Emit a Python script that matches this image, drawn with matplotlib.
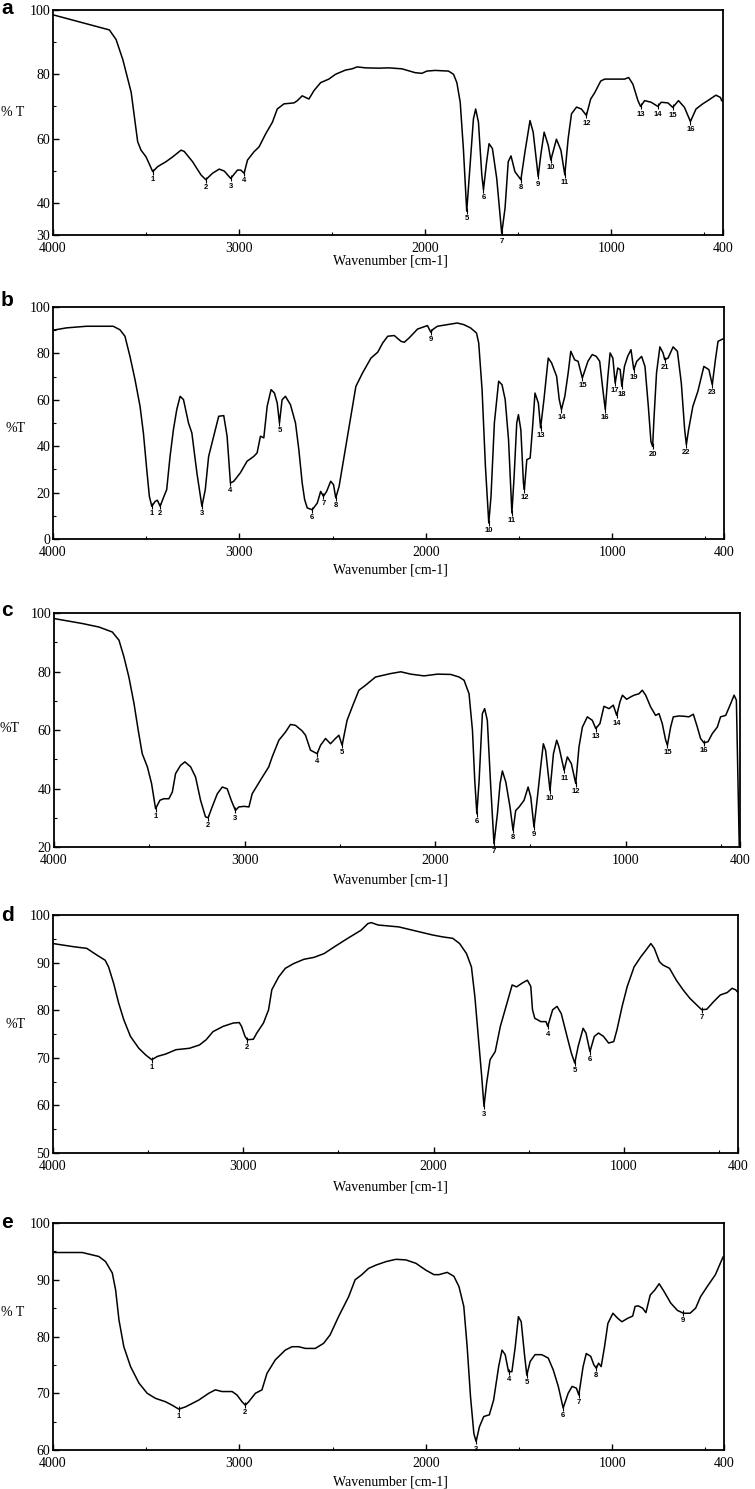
import numpy as np
import matplotlib.pyplot as plt
from matplotlib.ticker import MultipleLocator
# ------------------------------------------------------------------------
# FT-IR spectra a-e : wavenumber [cm-1] vs %T
# ------------------------------------------------------------------------
a_wn = [4000, 3697, 3661, 3625, 3580, 3545, 3527, 3500, 3464, 3437, 3393, 3357, 3312, 3295, 3250,
        3205, 3179, 3143, 3107, 3080, 3045, 3009, 2991, 2973, 2955, 2920, 2893, 2857, 2821, 2795,
        2759, 2705, 2687, 2661, 2643, 2625, 2598, 2562, 2518, 2482, 2429, 2393, 2366, 2321, 2250,
        2196, 2125, 2054, 2018, 1991, 1946, 1875, 1848, 1830, 1812, 1795, 1777, 1759, 1741, 1729,
        1714, 1696, 1687, 1670, 1657, 1639, 1616, 1589, 1571, 1554, 1539, 1518, 1486, 1464, 1437,
        1420, 1393, 1379, 1361, 1339, 1325, 1295, 1271, 1250, 1232, 1214, 1187, 1161, 1134, 1111,
        1089, 1057, 1036, 964, 929, 907, 884, 857, 843, 821, 786, 750, 732, 696, 670,
        639, 607, 575, 545, 509, 482, 438, 414, 407]
a_t = [98.5, 93.8, 90.8, 84.6, 74.4, 59.0, 56.4, 54.3, 49.7, 51.3, 52.8, 54.3, 56.4, 56.0, 52.8,
       48.7, 47.2, 49.2, 50.5, 49.9, 47.6, 50.2, 50.2, 49.2, 53.3, 55.9, 57.4, 61.5, 65.1, 69.2,
       70.8, 71.1, 71.8, 73.3, 72.8, 72.3, 74.9, 77.4, 78.5, 80.0, 81.3, 81.7, 82.3, 82.0, 81.9,
       82.0, 81.7, 80.5, 80.3, 81.0, 81.2, 81.0, 80.0, 77.4, 71.3, 56.9, 37.4, 51.7, 66.1, 69.2,
       65.1, 48.7, 44.1, 52.8, 58.4, 56.9, 47.7, 30.5, 38.4, 52.8, 54.6, 49.7, 47.2, 55.9, 65.6,
       62.0, 48.2, 54.9, 62.0, 57.9, 53.3, 59.8, 56.4, 48.7, 60.0, 67.7, 69.8, 69.2, 67.2, 72.3,
       74.3, 77.9, 78.5, 78.5, 78.5, 79.0, 76.9, 71.8, 70.0, 71.8, 71.3, 70.0, 71.3, 71.1, 69.7,
       71.8, 69.7, 65.3, 69.2, 70.8, 71.8, 73.5, 72.8, 71.8]
a_pk_wn = [3464, 3179, 3045, 2973, 1777, 1687, 1589, 1486, 1393, 1325, 1250, 1134, 843, 750, 670, 575]
a_pk_t = [49.7, 47.2, 47.6, 49.2, 37.4, 44.1, 30.5, 47.2, 48.2, 53.3, 48.7, 67.2, 70.0, 70.0, 69.7, 65.3]

b_wn = [4000, 3928, 3820, 3677, 3641, 3614, 3587, 3560, 3533, 3515, 3497, 3483, 3470, 3452, 3440,
        3425, 3408, 3390, 3372, 3354, 3336, 3318, 3300, 3273, 3255, 3228, 3201, 3183, 3165, 3138,
        3111, 3084, 3066, 3048, 3030, 2995, 2959, 2923, 2905, 2887, 2869, 2851, 2830, 2812, 2797,
        2785, 2771, 2753, 2726, 2699, 2681, 2663, 2650, 2636, 2609, 2582, 2564, 2549, 2532, 2510,
        2495, 2483, 2465, 2438, 2402, 2375, 2339, 2294, 2258, 2231, 2204, 2169, 2133, 2115, 2089,
        2044, 1991, 1973, 1964, 1938, 1885, 1831, 1796, 1760, 1728, 1716, 1698, 1680, 1662, 1650,
        1632, 1609, 1591, 1574, 1556, 1538, 1526, 1512, 1503, 1490, 1476, 1471, 1458, 1440, 1428,
        1414, 1396, 1384, 1366, 1343, 1325, 1298, 1284, 1272, 1254, 1236, 1222, 1201, 1183, 1160,
        1130, 1107, 1085, 1067, 1050, 1037, 1023, 1011, 996, 984, 970, 957, 948, 934, 917,
        899, 884, 868, 842, 824, 806, 792, 783, 775, 762, 744, 727, 718, 700, 673,
        650, 629, 611, 602, 590, 567, 540, 508, 481, 463, 446, 432, 407]
b_t = [90.0, 91.0, 91.7, 91.7, 90.2, 87.4, 78.7, 68.7, 57.2, 45.7, 29.9, 18.4, 14.1, 16.2, 16.7,
       14.1, 17.7, 21.3, 35.6, 47.1, 55.8, 61.5, 60.1, 50.0, 45.7, 28.5, 14.1, 21.3, 35.6, 44.3,
       52.9, 53.2, 44.3, 24.1, 24.9, 28.5, 33.5, 35.6, 37.1, 44.3, 43.6, 57.2, 64.4, 62.9, 58.6,
       50.0, 60.0, 61.5, 57.9, 50.0, 38.5, 24.1, 17.0, 13.4, 12.6, 15.5, 20.5, 18.4, 20.5, 24.9,
       23.4, 17.7, 22.7, 35.6, 52.9, 65.8, 71.6, 78.0, 80.5, 84.5, 87.4, 87.7, 85.2, 84.8, 86.7,
       90.5, 92.0, 89.1, 90.2, 91.7, 92.4, 93.1, 92.4, 91.0, 88.8, 84.5, 64.4, 31.3, 6.9, 18.4,
       50.0, 68.0, 66.5, 60.1, 42.8, 11.2, 27.0, 50.0, 53.6, 47.1, 24.1, 21.3, 34.2, 34.9, 47.1,
       62.9, 58.6, 47.9, 60.1, 78.0, 75.9, 70.1, 60.1, 55.8, 61.5, 71.6, 80.9, 77.2, 76.6, 69.4,
       76.6, 79.5, 78.7, 76.6, 64.4, 55.8, 70.1, 80.2, 77.9, 67.2, 73.7, 73.0, 65.8, 74.4, 78.7,
       81.6, 73.0, 76.6, 78.7, 74.4, 57.2, 42.0, 39.9, 52.9, 71.6, 82.8, 80.2, 77.3, 78.0, 82.8,
       80.9, 67.2, 47.1, 40.7, 47.1, 57.2, 63.7, 74.4, 73.0, 66.5, 77.3, 85.2, 86.2]
b_pk_wn = [3470, 3425, 3201, 3048, 2785, 2609, 2549, 2483, 1973, 1662, 1538, 1471, 1384, 1272, 1160,
           1037, 984, 948, 884, 783, 718, 602, 463]
b_pk_t = [14.1, 14.1, 14.1, 24.1, 50.0, 12.6, 18.4, 17.7, 89.1, 6.9, 11.2, 21.3, 47.9, 55.8, 69.4,
          55.8, 67.2, 65.8, 73.0, 39.9, 77.3, 40.7, 66.5]

c_wn = [4000, 3851, 3764, 3694, 3659, 3633, 3607, 3580, 3558, 3537, 3510, 3488, 3467, 3444, 3423,
        3397, 3379, 3362, 3336, 3313, 3283, 3257, 3231, 3205, 3191, 3170, 3143, 3117, 3091, 3070,
        3048, 3030, 3003, 2977, 2960, 2917, 2873, 2855, 2820, 2785, 2759, 2733, 2698, 2680, 2654,
        2619, 2601, 2575, 2549, 2523, 2505, 2488, 2462, 2435, 2400, 2365, 2313, 2233, 2180, 2128,
        2058, 1988, 1918, 1874, 1848, 1822, 1804, 1792, 1781, 1769, 1752, 1740, 1726, 1708, 1691,
        1673, 1659, 1647, 1629, 1607, 1591, 1577, 1559, 1533, 1512, 1498, 1481, 1463, 1446, 1432,
        1420, 1397, 1379, 1362, 1350, 1323, 1306, 1285, 1262, 1245, 1227, 1201, 1175, 1157, 1135,
        1114, 1087, 1065, 1047, 1030, 1017, 995, 974, 956, 930, 913, 895, 869, 843, 825,
        808, 790, 781, 764, 750, 720, 694, 668, 645, 624, 607, 589, 568, 545, 519,
        502, 475, 449, 431, 419, 410, 404]
c_t = [98.1, 96.4, 95.2, 93.5, 90.7, 85.0, 78.1, 69.0, 59.9, 51.9, 47.4, 41.7, 33.1, 36.0, 36.5,
       36.5, 38.8, 45.1, 47.9, 49.1, 47.4, 43.9, 36.0, 30.3, 30.0, 33.7, 38.2, 40.5, 39.9, 36.0,
       32.5, 33.7, 33.9, 33.7, 38.2, 42.8, 47.4, 50.8, 56.5, 59.3, 61.9, 61.6, 59.7, 58.2, 53.1,
       51.9, 54.8, 57.1, 55.3, 57.1, 58.2, 54.8, 63.3, 67.9, 73.6, 75.3, 78.1, 79.3, 79.9, 79.1,
       78.5, 79.1, 79.0, 78.1, 77.0, 72.4, 59.9, 42.8, 31.4, 42.8, 65.6, 67.3, 63.3, 40.5, 21.1,
       31.4, 41.7, 46.0, 42.2, 33.7, 25.7, 32.5, 33.7, 36.0, 40.5, 37.1, 26.8, 37.1, 47.4, 55.3,
       53.0, 39.3, 51.9, 56.5, 54.2, 46.2, 50.8, 48.5, 41.7, 54.2, 61.0, 64.5, 63.3, 60.5, 62.2,
       68.1, 67.3, 68.5, 65.0, 69.6, 71.9, 70.5, 71.3, 71.9, 72.4, 73.6, 71.9, 67.9, 65.0, 65.6,
       62.2, 56.5, 54.8, 61.0, 64.5, 64.8, 64.7, 64.5, 65.4, 61.0, 57.1, 55.6, 56.0, 58.8, 61.0,
       64.5, 65.0, 69.0, 71.9, 70.2, 40.0, 20.5]
c_pk_wn = [3467, 3191, 3048, 2619, 2488, 1781, 1691, 1591, 1481, 1397, 1323, 1262, 1157, 1047, 781, 589]
c_pk_t = [33.1, 30.0, 32.5, 51.9, 54.8, 31.4, 21.1, 25.7, 26.8, 39.3, 46.2, 41.7, 60.5, 65.0, 54.8, 55.6]

d_wn = [4000, 3885, 3823, 3770, 3726, 3708, 3681, 3655, 3628, 3593, 3549, 3513, 3481, 3451, 3407,
        3354, 3283, 3230, 3195, 3159, 3106, 3053, 3021, 3009, 2991, 2979, 2947, 2929, 2894, 2867,
        2850, 2814, 2779, 2735, 2681, 2628, 2575, 2522, 2451, 2381, 2345, 2327, 2292, 2183, 2005,
        1952, 1899, 1863, 1827, 1801, 1783, 1765, 1747, 1735, 1721, 1703, 1676, 1649, 1614, 1587,
        1564, 1534, 1507, 1489, 1480, 1468, 1436, 1409, 1400, 1374, 1351, 1329, 1303, 1276, 1258,
        1240, 1214, 1199, 1178, 1155, 1133, 1107, 1080, 1053, 1036, 1009, 982, 946, 911, 884,
        858, 840, 813, 795, 760, 724, 689, 653, 617, 591, 564, 528, 493, 457, 431,
        413, 404]
d_t = [94.0, 93.3, 93.0, 91.6, 90.5, 89.1, 85.6, 81.5, 78.0, 74.5, 72.0, 70.6, 69.6, 70.3, 70.8,
       71.7, 72.0, 72.7, 73.8, 75.5, 76.6, 77.3, 77.4, 76.6, 74.5, 73.8, 73.9, 75.2, 77.3, 80.1,
       84.3, 87.0, 88.8, 89.8, 90.7, 91.1, 91.9, 93.3, 95.1, 96.8, 98.2, 98.4, 97.9, 97.5, 95.8,
       95.4, 95.1, 94.0, 91.9, 89.1, 82.9, 74.5, 66.1, 59.8, 64.7, 69.6, 71.3, 76.6, 81.5, 85.3,
       84.9, 85.7, 86.3, 85.0, 80.1, 78.3, 77.6, 77.6, 76.6, 80.1, 80.8, 79.3, 75.2, 71.0, 68.9,
       72.4, 76.2, 75.2, 71.3, 74.5, 75.2, 74.5, 73.1, 73.4, 75.9, 80.8, 85.0, 89.1, 91.2, 92.6,
       94.0, 93.0, 90.2, 89.5, 88.8, 86.3, 84.3, 82.5, 81.1, 80.1, 80.2, 81.8, 83.2, 83.7, 84.6,
       84.3, 83.9]
d_pk_wn = [3481, 2979, 1735, 1400, 1258, 1178, 591]
d_pk_t = [69.6, 73.8, 59.8, 76.6, 68.9, 71.3, 80.1]

e_wn = [4000, 3843, 3754, 3718, 3682, 3664, 3646, 3620, 3584, 3539, 3495, 3450, 3396, 3361, 3325,
        3289, 3218, 3164, 3129, 3093, 3039, 3013, 2986, 2968, 2950, 2914, 2879, 2852, 2807, 2754,
        2718, 2682, 2646, 2593, 2548, 2513, 2468, 2414, 2379, 2343, 2307, 2266, 2213, 2160, 2107,
        2053, 2000, 1956, 1929, 1885, 1849, 1822, 1796, 1778, 1760, 1742, 1730, 1712, 1689, 1659,
        1636, 1609, 1591, 1574, 1556, 1538, 1520, 1503, 1488, 1471, 1458, 1440, 1414, 1378, 1343,
        1316, 1289, 1263, 1236, 1215, 1192, 1179, 1156, 1139, 1115, 1098, 1085, 1073, 1059, 1041,
        1023, 996, 970, 948, 917, 890, 877, 860, 837, 819, 796, 771, 748, 721, 686,
        650, 618, 582, 552, 526, 490, 446, 416, 405]
e_t = [94.8, 94.8, 94.1, 93.2, 91.2, 88.2, 82.9, 78.2, 74.7, 71.8, 70.0, 69.1, 68.5, 67.9, 67.2,
       67.6, 68.8, 70.0, 70.6, 70.3, 70.3, 69.7, 68.5, 67.9, 68.5, 70.0, 70.6, 73.5, 75.9, 77.6,
       78.2, 78.2, 77.9, 77.9, 78.8, 80.3, 83.5, 87.0, 90.0, 90.9, 92.0, 92.6, 93.2, 93.6, 93.5,
       92.9, 91.7, 90.9, 90.9, 91.3, 90.6, 88.8, 85.3, 78.2, 69.4, 62.9, 61.5, 64.1, 65.9, 66.2,
       68.8, 74.7, 77.6, 76.8, 73.8, 73.8, 78.2, 83.5, 82.6, 77.0, 73.2, 75.6, 76.8, 76.8, 76.2,
       74.1, 71.2, 67.4, 70.0, 71.2, 70.9, 69.7, 74.7, 77.0, 76.5, 75.0, 74.4, 75.3, 74.7, 78.2,
       82.3, 84.1, 83.2, 82.6, 83.2, 83.6, 85.3, 85.4, 85.0, 84.2, 87.3, 88.2, 89.3, 87.9, 85.9,
       84.6, 84.1, 84.1, 85.0, 87.0, 88.8, 90.9, 93.2, 94.0]
e_pk_wn = [3325, 2968, 1730, 1556, 1458, 1263, 1179, 1085, 618]
e_pk_t = [67.2, 67.9, 61.5, 73.8, 73.2, 67.4, 69.7, 74.4, 84.1]

# axis settings per panel
letters = ['a', 'b', 'c', 'd', 'e']
ylabels = ['% T', '%T', '%T', '%T', '% T']
y_lims = [(30, 100), (0, 100), (20, 100), (50, 100), (60, 100)]
y_ticks = [[30, 40, 60, 80, 100], [0, 20, 40, 60, 80, 100], [20, 40, 60, 80, 100],
           [50, 60, 70, 80, 90, 100], [60, 70, 80, 90, 100]]
y_minor = [10, 10, 10, 5, 5]
x_ticks = [4000, 3000, 2000, 1000, 400]
# ------------------------------------------------------------------------
W, H = 755, 1489
fig = plt.figure(figsize=(W / 100, H / 100), dpi=100)
serif = 'Liberation Serif'

# axes boxes in pixels: left, top, right, bottom
boxes = [(53, 10, 723, 235), (53, 307, 724, 539), (54, 613, 740, 847),
         (53, 915, 738, 1153), (53, 1223, 724, 1450)]
ylab_pos = [(13, 112), (15, 428), (10, 728), (15, 1025), (13, 1312)]
letter_pos = [(7, 9), (7, 300), (7, 610), (8, 915), (7, 1223)]
wlab_y = [261, 570, 880, 1187, 1482]

spectra = [(a_wn, a_t, a_pk_wn, a_pk_t), (b_wn, b_t, b_pk_wn, b_pk_t),
           (c_wn, c_t, c_pk_wn, c_pk_t), (d_wn, d_t, d_pk_wn, d_pk_t),
           (e_wn, e_t, e_pk_wn, e_pk_t)]

for i, (wn, t, pk_wn, pk_t) in enumerate(spectra):
    l, tp, r, b = boxes[i]
    ax = fig.add_axes([l / W, 1 - b / H, (r - l) / W, (b - tp) / H])
    ax.plot(wn, t, color='black', lw=1.1)

    # peak markers and numbers
    ax.plot(pk_wn, pk_t, ls='none', marker='|', ms=4, mew=0.8, color='black')
    for k, (pw, pt) in enumerate(zip(pk_wn, pk_t)):
        ax.annotate(str(k + 1), (pw, pt), xytext=(0, -3), textcoords='offset points',
                    ha='center', va='top', fontsize=5.5, fontweight='bold',
                    family='Liberation Sans', annotation_clip=False)

    ax.set_xlim(4000, 400)
    ax.set_ylim(*y_lims[i])
    ax.set_xticks(x_ticks)
    ax.set_xticklabels([str(x) for x in x_ticks])
    ax.set_yticks(y_ticks[i])
    ax.xaxis.set_minor_locator(MultipleLocator(500))
    ax.yaxis.set_minor_locator(MultipleLocator(y_minor[i]))
    ax.tick_params(which='both', direction='in', top=False, right=False)
    ax.tick_params(which='major', length=4, width=1)
    ax.tick_params(which='minor', length=2.5, width=0.8)
    ax.tick_params(axis='x', pad=5, labelsize=10)
    ax.tick_params(axis='y', pad=2, labelsize=10)
    for lab in ax.get_xticklabels() + ax.get_yticklabels():
        lab.set_family(serif)
    for s in ax.spines.values():
        s.set_linewidth(1.3)

    xl, yl = ylab_pos[i]
    fig.text(xl / W, 1 - yl / H, ylabels[i], ha='center', va='center', fontsize=10, family=serif)
    xa, ya = letter_pos[i]
    fig.text(xa / W, 1 - ya / H, letters[i], ha='center', va='center', fontsize=15,
             fontweight='bold', family='Liberation Sans')
    fig.text(390 / W, 1 - wlab_y[i] / H, 'Wavenumber [cm-1]', ha='center', va='center',
             fontsize=10, family=serif)

fig.savefig('out.png', dpi=100)
